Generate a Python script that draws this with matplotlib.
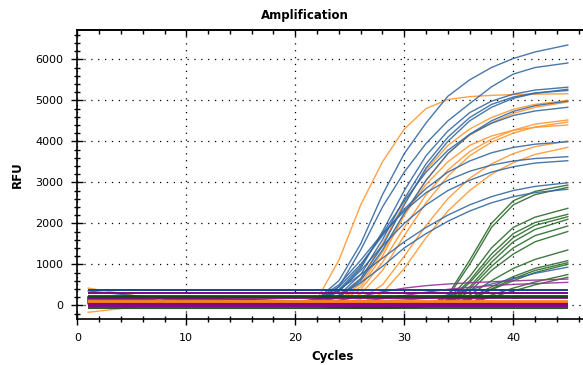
import matplotlib
matplotlib.use("Agg")
import matplotlib.pyplot as plt
from matplotlib.ticker import MultipleLocator

cycles = [1, 8, 20, 22, 24, 26, 28, 30, 32, 34, 36, 38, 40, 42, 45]

blue_curves = [
    [80, 70, 60, 150, 600, 1500, 2700, 3700, 4450, 5100, 5500, 5800, 6020, 6180, 6350],
    [60, 60, 50, 110, 450, 1350, 2400, 3250, 3950, 4500, 4920, 5330, 5640, 5800, 5910],
    [120, 90, 60, 90, 330, 900, 1800, 2800, 3650, 4250, 4700, 4980, 5150, 5250, 5320],
    [100, 80, 50, 70, 250, 750, 1600, 2600, 3450, 4100, 4580, 4900, 5080, 5180, 5240],
    [90, 80, 60, 70, 220, 650, 1450, 2450, 3350, 4000, 4500, 4830, 5050, 5170, 5270],
    [50, 50, 40, 60, 200, 600, 1350, 2250, 3050, 3700, 4170, 4500, 4730, 4870, 4980],
    [140, 100, 70, 100, 380, 950, 1750, 2550, 3250, 3780, 4170, 4440, 4630, 4740, 4830],
    [150, 110, 80, 120, 450, 1000, 1700, 2350, 2850, 3250, 3520, 3720, 3850, 3930, 3990],
    [350, 160, 90, 150, 500, 1100, 1750, 2300, 2750, 3050, 3270, 3420, 3520, 3580, 3625],
    [200, 120, 70, 100, 350, 850, 1450, 2000, 2450, 2800, 3050, 3250, 3380, 3470, 3527],
    [130, 100, 80, 120, 380, 750, 1150, 1550, 1900, 2200, 2450, 2650, 2800, 2900, 2990],
    [90, 80, 60, 80, 220, 550, 950, 1400, 1750, 2050, 2300, 2500, 2650, 2750, 2830],
    [110, 100, 90, 90, 100, 100, 110, 130, 170, 250, 380, 520, 650, 780, 930],
]

orange_curves = [
    [60, 60, 70, 150, 1100, 2450, 3500, 4300, 4800, 5020, 5090, 5120, 5140, 5150, 5160],
    [420, 120, 60, 60, 180, 650, 1500, 2500, 3300, 3900, 4300, 4580, 4780, 4900, 5000],
    [-170, 40, 40, 40, 120, 450, 1200, 2200, 3050, 3700, 4150, 4450, 4680, 4830, 4960],
    [100, 90, 60, 30, 90, 380, 1050, 1900, 2700, 3300, 3750, 4050, 4270, 4420, 4520],
    [80, 80, 50, 20, 60, 280, 850, 1700, 2500, 3150, 3650, 3980, 4200, 4350, 4470],
    [120, 100, 70, 50, 130, 520, 1300, 2200, 2950, 3500, 3900, 4130, 4270, 4340, 4400],
    [90, 80, 40, 0, 40, 150, 500, 1200, 1950, 2600, 3100, 3450, 3700, 3870, 4007],
    [70, 70, 30, -30, -20, 60, 300, 900, 1650, 2300, 2800, 3200, 3480, 3680, 3853],
]

green_curves = [
    [200, 180, 100, -20, -50, -60, -60, -50, -20, 250, 1100, 2000, 2550, 2780, 2934],
    [180, 170, 90, -20, -50, -60, -60, -50, -30, 200, 1000, 1900, 2450, 2700, 2878],
    [210, 190, 110, 0, -40, -50, -50, -40, -20, 150, 700, 1400, 1900, 2150, 2366],
    [160, 150, 80, -10, -40, -50, -50, -40, -20, 120, 600, 1250, 1750, 2020, 2220],
    [190, 170, 100, 0, -30, -40, -50, -40, -20, 100, 550, 1150, 1650, 1950, 2161],
    [150, 140, 80, -10, -40, -50, -50, -40, -20, 80, 450, 1050, 1550, 1850, 2098],
    [170, 160, 90, 0, -30, -40, -40, -30, -10, 60, 400, 950, 1400, 1700, 1934],
    [140, 130, 70, -10, -40, -50, -50, -40, -20, 50, 330, 850, 1250, 1550, 1800],
    [200, 180, 100, 10, -30, -40, -40, -30, -10, 40, 250, 600, 900, 1120, 1349],
    [160, 150, 80, 0, -30, -40, -40, -30, -10, 30, 180, 450, 700, 900, 1088],
    [180, 160, 90, 0, -30, -40, -40, -30, -10, 30, 150, 400, 650, 850, 1039],
    [150, 140, 80, -10, -40, -50, -50, -40, -20, 20, 130, 380, 600, 800, 1000],
    [170, 150, 80, 0, -30, -40, -40, -30, -20, 0, 80, 250, 420, 570, 750],
    [130, 120, 70, 0, -30, -40, -40, -40, -20, 10, 60, 200, 350, 500, 683],
]

purple_curves = [
    [40, 40, 40, 60, 120, 220, 330, 420, 480, 520, 550, 575, 595, 615, 640],
    [30, 30, 30, 40, 60, 100, 160, 240, 320, 390, 440, 480, 510, 530, 560],
]

# flat (non-amplifying) wells, constant RFU level
flat_blue = [378, 368]
flat_purple_hi = [310, 290]
flat_green = [232, 212]
flat_purple_mid = [172]
flat_orange = [102, 86]
flat_purple_lo = [48, 26, 4, -18]
flat_green_lo = [-62]

BLUE = "#3469a2"
BLUE_DARK = "#0c4c8e"
ORANGE = "#ff9c3c"
ORANGE_DARK = "#ff8414"
GREEN = "#2c6b2c"
GREEN_DARK = "#0d4d0d"
PURPLE = "#9a2f9a"
PURPLE_DARK = "#84087f"

plt.rcParams["font.family"] = "DejaVu Sans"
plt.rcParams["font.size"] = 8

fig = plt.figure(figsize=(5.83, 3.65), dpi=100)
ax = fig.add_axes([0.1326, 0.1268, 0.8974, 0.791])

for ys in green_curves:
    ax.plot(cycles, ys, color=GREEN, lw=1.0, alpha=0.9, zorder=3)
for ys in orange_curves:
    ax.plot(cycles, ys, color=ORANGE, lw=1.0, alpha=0.95, zorder=3)
for ys in blue_curves:
    ax.plot(cycles, ys, color=BLUE, lw=1.0, alpha=0.9, zorder=3)
for ys in purple_curves:
    ax.plot(cycles, ys, color=PURPLE, lw=1.0, alpha=0.9, zorder=3)

first, last = cycles[0], cycles[-1]
ax.hlines(flat_green_lo, first, last, color=GREEN_DARK, lw=1.3, zorder=4)
ax.hlines(flat_purple_lo, first, last, color=PURPLE_DARK, lw=1.4, zorder=4)
ax.hlines(flat_orange, first, last, color=ORANGE_DARK, lw=1.3, zorder=4)
ax.hlines(flat_purple_mid, first, last, color=PURPLE_DARK, lw=1.3, zorder=4)
ax.hlines(flat_green, first, last, color=GREEN_DARK, lw=1.3, zorder=4)
ax.hlines(flat_purple_hi, first, last, color=PURPLE_DARK, lw=1.3, zorder=4)
ax.hlines(flat_blue, first, last, color=BLUE_DARK, lw=1.3, zorder=4)

ax.set_xlim(0, 48)
ax.set_ylim(-327, 6715)
ax.xaxis.set_major_locator(MultipleLocator(10))
ax.xaxis.set_minor_locator(MultipleLocator(2))
ax.yaxis.set_major_locator(MultipleLocator(1000))
ax.yaxis.set_minor_locator(MultipleLocator(200))
ax.tick_params(which="major", direction="inout", length=8, width=1, pad=6)
ax.tick_params(which="minor", direction="inout", length=5, width=1)
ax.grid(True, which="major", color="black", lw=0.9, linestyle=(0, (1, 4.5)))
for side in ["top", "left", "bottom"]:
    ax.spines[side].set_linewidth(1.2)
ax.spines["right"].set_visible(False)

top = ax.secondary_xaxis("top")
top.xaxis.set_major_locator(MultipleLocator(10))
top.xaxis.set_minor_locator(MultipleLocator(2))
top.tick_params(which="major", direction="in", length=4, width=1, labeltop=False)
top.tick_params(which="minor", direction="in", length=3, width=1)
top.spines["top"].set_linewidth(1.2)

ax.set_xlabel("Cycles", fontweight="bold", fontsize=8.5)
ax.set_ylabel("RFU", fontweight="bold", fontsize=8.5, labelpad=8)
ax.xaxis.set_label_coords((333 - 77.3) / (0.8974 * 583), -0.11)
fig.text(305 / 583, 1 - 15 / 365, "Amplification", ha="center", va="center",
         fontweight="bold", fontsize=8.5)

fig.savefig("out.png", dpi=100)
